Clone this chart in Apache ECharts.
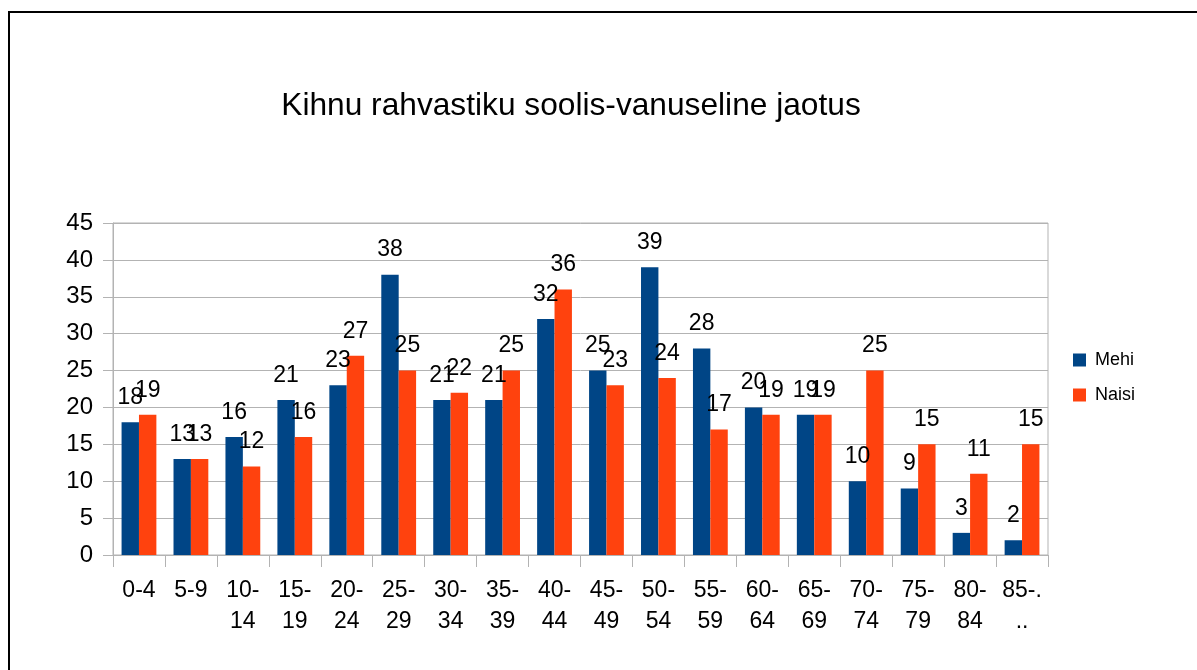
<!DOCTYPE html>
<html>
<head>
<meta charset="utf-8">
<script src="https://cdn.jsdelivr.net/npm/echarts@6/dist/echarts.min.js"></script>
<style>
html,body{margin:0;padding:0;background:#fff;}
#frame{position:absolute;left:8px;top:11px;width:1189px;height:659px;border-top:2px solid #000;border-left:2px solid #000;box-sizing:border-box;}
#chart{position:absolute;left:0;top:0;width:1197px;height:670px;}
</style>
</head>
<body>
<div id="frame"></div>
<div id="chart"></div>
<script>
const categories = ['0-4','5-9','10-\n14','15-\n19','20-\n24','25-\n29','30-\n34','35-\n39','40-\n44','45-\n49','50-\n54','55-\n59','60-\n64','65-\n69','70-\n74','75-\n79','80-\n84','85-.\n..'];
const mehi  = [18,13,16,21,23,38,21,21,32,25,39,28,20,19,10,9,3,2];
const naisi = [19,13,12,16,27,25,22,25,36,23,24,17,19,19,25,15,11,15];
const titleText = 'Kihnu rahvastiku soolis-vanuseline jaotus';

const font = "'Liberation Sans', Arial, sans-serif";
const chart = echarts.init(document.getElementById('chart'), null, {renderer:'canvas'});
const labelCfg = {show:true, position:'top', distance:13, color:'#000', fontSize:23, fontFamily:font};
chart.setOption({
  backgroundColor:'transparent',
  animation:false,
  title:{text:titleText, left:566, textAlign:'center', top:85,
    textStyle:{fontSize:31.7, fontWeight:'normal', color:'#000', fontFamily:font}},
  legend:{orient:'vertical', left:1068, top:346, itemWidth:13, itemHeight:13, itemGap:17,
    icon:'rect', textStyle:{fontSize:18, color:'#000', fontFamily:font, padding:[0,0,0,4]}},
  grid:{left:113, right:149, top:223, bottom:115, show:true, borderColor:'#b3b3b3', borderWidth:1},
  xAxis:{type:'category', data:categories,
    axisLine:{lineStyle:{color:'#b3b3b3'}},
    axisTick:{show:true, length:12, lineStyle:{color:'#b3b3b3'}},
    axisLabel:{color:'#000', fontSize:23, fontFamily:font, margin:20, lineHeight:31, interval:0}},
  yAxis:{type:'value', min:0, max:45, interval:5,
    axisLine:{show:true, lineStyle:{color:'#b3b3b3'}},
    axisTick:{show:true, length:10, lineStyle:{color:'#b3b3b3'}},
    splitLine:{lineStyle:{color:'#b3b3b3'}},
    axisLabel:{color:'#000', fontSize:24, fontFamily:font, margin:20}},
  series:[
    {name:'Mehi', type:'bar', data:mehi, barGap:'0%', barCategoryGap:'33%',
      itemStyle:{color:'#004586'}, label:labelCfg},
    {name:'Naisi', type:'bar', data:naisi, barGap:'0%', barCategoryGap:'33%',
      itemStyle:{color:'#ff420e'}, label:labelCfg}
  ]
});
</script>
</body>
</html>
